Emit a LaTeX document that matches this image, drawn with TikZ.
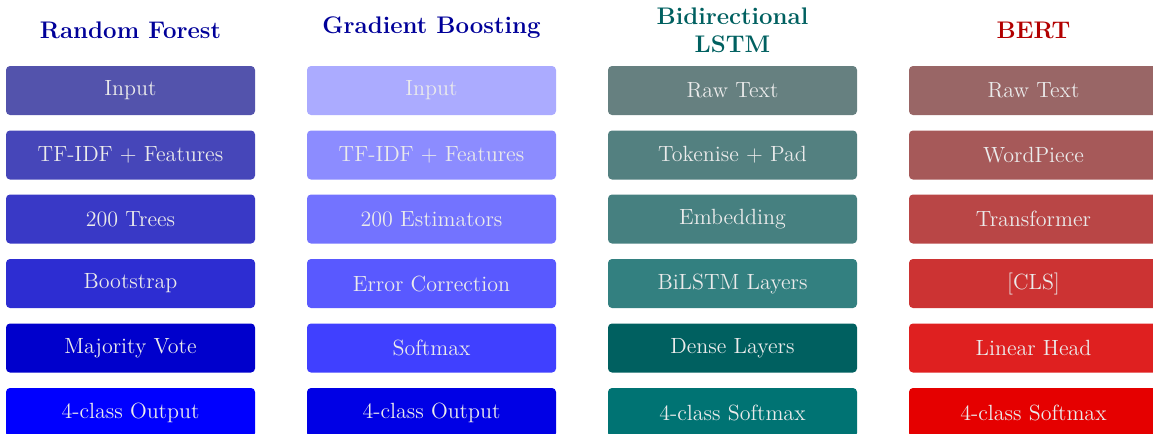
\documentclass[tikz,border=0pt]{standalone}
\usepackage{amsmath,amssymb}
\usepackage{tikz}
\usepackage{xcolor}

\tikzset{
  stagebox/.style={rounded corners=2pt, minimum width=124.5pt, minimum height=24.5pt,
    inner sep=0pt, text=white!92!black, font=\fontsize{11}{13}\selectfont},
  coltitle/.style={font=\large\bfseries, align=center, inner sep=0pt}
}

\begin{document}
\begin{tikzpicture}[x=0.5pt,y=-0.5pt]
\useasboundingbox (0,0) rectangle (1153,434);
% titles
\node[coltitle, text=blue!60!black] (rfT) at (130.5,30) {Random Forest};
\node[coltitle, text=blue!60!black] (gbT) at (431.5,28) {Gradient Boosting};
\node[coltitle, text=teal!75!black] (lsT) at (732.5,30) {Bidirectional\\LSTM};
\node[coltitle, text=red!70!black] (btT) at (1033.5,30) {BERT};
% random forest
\node[stagebox, fill=blue!35!gray] (rf1) at (130.5,90.5) {Input};
\node[stagebox, fill=blue!45!gray] (rf2) at (130.5,155) {TF-IDF + Features};
\node[stagebox, fill=blue!55!gray] (rf3) at (130.5,219) {200 Trees};
\node[stagebox, fill=blue!65!gray] (rf4) at (130.5,283.5) {Bootstrap};
\node[stagebox, fill=blue!80!black] (rf5) at (130.5,348) {Majority Vote};
\node[stagebox, fill=blue] (rf6) at (130.5,412.5) {4-class Output};
% gradient boosting
\node[stagebox, fill=blue!33] (gb1) at (431.5,90.5) {Input};
\node[stagebox, fill=blue!45] (gb2) at (431.5,155) {TF-IDF + Features};
\node[stagebox, fill=blue!55] (gb3) at (431.5,219) {200 Estimators};
\node[stagebox, fill=blue!65] (gb4) at (431.5,283.5) {Error Correction};
\node[stagebox, fill=blue!75] (gb5) at (431.5,348) {Softmax};
\node[stagebox, fill=blue!90!black] (gb6) at (431.5,412.5) {4-class Output};
% bidirectional lstm
\node[stagebox, fill=teal!20!gray] (ls1) at (732.5,90.5) {Raw Text};
\node[stagebox, fill=teal!35!gray] (ls2) at (732.5,155) {Tokenise + Pad};
\node[stagebox, fill=teal!45!gray] (ls3) at (732.5,219) {Embedding};
\node[stagebox, fill=teal!60!gray] (ls4) at (732.5,283.5) {BiLSTM Layers};
\node[stagebox, fill=teal!75!black] (ls5) at (732.5,348) {Dense Layers};
\node[stagebox, fill=teal!90!black] (ls6) at (732.5,412.5) {4-class Softmax};
% bert
\node[stagebox, fill=red!20!gray] (bt1) at (1033.5,90.5) {Raw Text};
\node[stagebox, fill=red!30!gray] (bt2) at (1033.5,155) {WordPiece};
\node[stagebox, fill=red!45!gray] (bt3) at (1033.5,219) {Transformer};
\node[stagebox, fill=red!60!gray] (bt4) at (1033.5,283.5) {[CLS]};
\node[stagebox, fill=red!75!gray] (bt5) at (1033.5,348) {Linear Head};
\node[stagebox, fill=red!90!black] (bt6) at (1033.5,412.5) {4-class Softmax};
\end{tikzpicture}
\end{document}
